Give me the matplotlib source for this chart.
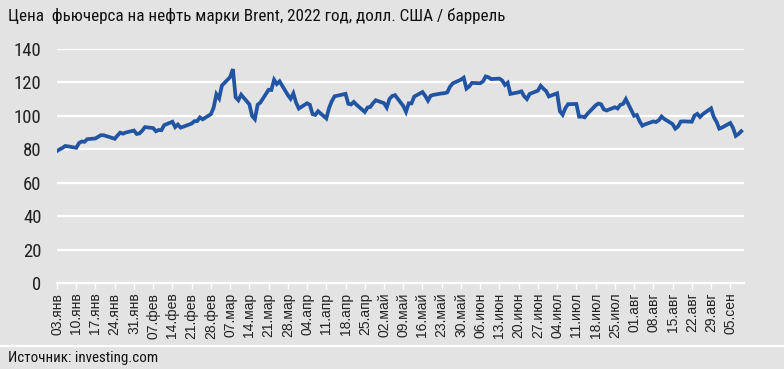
import matplotlib
matplotlib.use("Agg")
import matplotlib.pyplot as plt
import matplotlib.transforms as mtransforms
import pandas as pd

# Brent futures close, USD/bbl
jan = [78.98, 80.00, 80.80, 81.99, 81.75, 80.87, 83.72, 84.67, 84.47, 86.06, 86.48,
       87.51, 88.44, 88.38, 87.89, 86.27, 88.20, 89.96, 89.34, 90.03, 91.21]
feb = [89.16, 89.47, 91.11, 93.27, 92.69, 90.78, 91.55, 91.41, 94.44, 96.48, 93.28,
       94.81, 92.97, 93.54, 95.39, 96.84, 96.84, 99.08, 97.93, 100.99]
mar = [104.97, 112.93, 110.46, 118.11, 123.21, 127.98, 111.14, 109.33, 112.67, 106.90,
       99.91, 98.02, 106.64, 107.93, 115.62, 115.48, 121.60, 119.03, 120.65, 112.48,
       110.23, 113.45, 107.91]
apr = [104.39, 107.53, 106.64, 101.07, 100.58, 102.78, 98.48, 104.64, 108.78, 111.70,
       113.16, 107.25, 106.80, 108.33, 106.65, 102.32, 104.99, 105.32, 107.59, 109.34]
may = [107.58, 104.97, 110.14, 111.90, 112.39, 105.94, 102.46, 107.51, 107.45, 111.55,
       114.24, 111.93, 109.11, 112.04, 112.55, 113.42, 113.56, 114.03, 117.40, 119.43,
       121.67, 122.84]
jun = [116.29, 117.61, 119.72, 119.51, 120.57, 123.58, 123.07, 122.01, 122.27, 121.17,
       118.51, 119.81, 113.12, 114.13, 114.65, 111.74, 110.05, 113.12, 115.09, 117.98,
       116.26, 114.81]
jul = [111.63, 113.50, 102.77, 100.69, 104.65, 107.02, 107.10, 99.49, 99.57, 99.10,
       101.16, 106.27, 107.35, 106.92, 103.86, 103.20, 105.15, 104.40, 106.62, 107.14,
       110.01]
aug = [100.03, 100.54, 96.78, 94.12, 94.92, 96.65, 96.31, 97.40, 99.60, 98.15, 95.10,
       92.34, 93.65, 96.59, 96.72, 96.48, 100.22, 101.22, 99.34, 100.99, 104.5, 99.31,
       96.49]
sep = [92.36, 93.02, 95.74, 92.83, 88.00, 89.15, 90.8]

brent = jan + feb + mar + apr + may + jun + jul + aug + sep
days = pd.bdate_range("2022-01-03", "2022-09-09", freq="C", holidays=["2022-04-15"])

tick_labels = ["03.янв", "10.янв", "17.янв", "24.янв", "31.янв", "07.фев", "14.фев",
               "21.фев", "28.фев", "07.мар", "14.мар", "21.мар", "28.мар", "04.апр",
               "11.апр", "18.апр", "25.апр", "02.май", "09.май", "16.май", "23.май",
               "30.май", "06.июн", "13.июн", "20.июн", "27.июн", "04.июл", "11.июл",
               "18.июл", "25.июл", "01.авг", "08.авг", "15.авг", "22.авг", "29.авг",
               "05.сен"]
tick_days = pd.date_range("2022-01-03", periods=len(tick_labels), freq="7D")

title = "Цена  фьючерса на нефть марки Brent, 2022 год, долл. США / баррель"
source = "Источник: investing.com"

bg = "#e3e3e3"
cond = ["Roboto Condensed", "Roboto", "DejaVu Sans"]

fig = plt.figure(figsize=(7.84, 3.69), dpi=100, facecolor=bg)
ax = fig.add_axes([57 / 784, 1 - 283 / 369, 687 / 784, 234 / 369])
ax.set_facecolor(bg)

ax.plot(days, brent, color="#2155a3", linewidth=2.7, solid_joinstyle="miter", zorder=3)

ax.set_ylim(0, 140)
ax.set_yticks(range(0, 141, 20))
ax.set_xlim(pd.Timestamp("2022-01-03"), pd.Timestamp("2022-09-10"))
ax.set_xticks(tick_days)
ax.set_xticklabels(tick_labels, rotation=90, fontsize=10, family="Liberation Sans",
                   color="#222222")
shift = mtransforms.ScaledTranslation(5 / 100, 0, fig.dpi_scale_trans)
for lab in ax.get_xticklabels():
    lab.set_transform(lab.get_transform() + shift)

for lab in ax.get_yticklabels():
    lab.set_family(cond)
    lab.set_fontsize(13.5)
    lab.set_color("#222222")

ax.grid(True, axis="y", color="white", linewidth=1.6)
ax.set_axisbelow(True)
for s in ["top", "right", "left"]:
    ax.spines[s].set_visible(False)
ax.spines["bottom"].set_color("white")
ax.spines["bottom"].set_linewidth(1.6)
ax.tick_params(axis="y", length=0, pad=11)
ax.tick_params(axis="x", length=4, width=1, color="white", pad=3)

fig.text(8 / 784, 1 - 16 / 369, title, va="center", ha="left", fontsize=12.3,
         family=cond, color="#111111")
fig.add_artist(plt.Line2D([0, 1], [1 - 346 / 369] * 2, color="white", linewidth=1.6,
                          transform=fig.transFigure))
fig.text(8 / 784, 1 - 358 / 369, source, va="center", ha="left", fontsize=10.8,
         family=cond, color="#111111")

fig.savefig("out.png", dpi=100, facecolor=bg)
